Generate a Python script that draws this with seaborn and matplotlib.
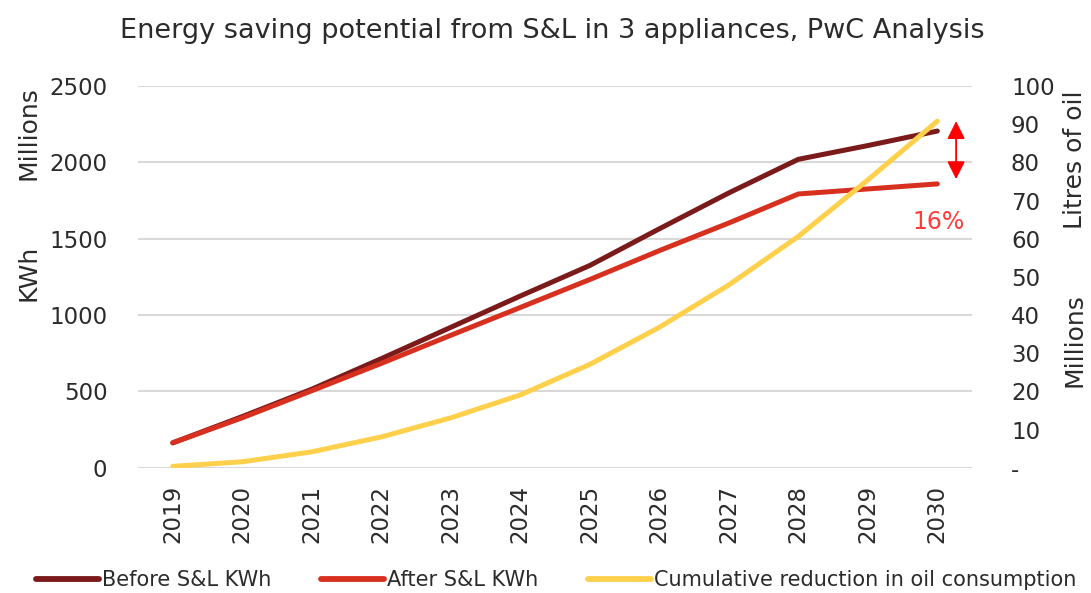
import matplotlib
matplotlib.use("Agg")
import matplotlib.pyplot as plt
import seaborn as sns
import pandas as pd
from matplotlib.lines import Line2D

# data
years = ["2019", "2020", "2021", "2022", "2023", "2024", "2025", "2026", "2027", "2028", "2029", "2030"]
before_kwh = [164, 336, 515, 715, 920, 1125, 1325, 1565, 1800, 2020, 2110, 2205]
after_kwh = [164, 328, 505, 684, 868, 1050, 1233, 1422, 1603, 1793, 1826, 1859]
oil_reduction = [0.4, 1.6, 4.2, 8.1, 13.1, 19.1, 27.1, 36.8, 47.9, 60.6, 75.4, 90.8]
left_ticks = [0, 500, 1000, 1500, 2000, 2500]
right_ticks = [0, 10, 20, 30, 40, 50, 60, 70, 80, 90, 100]
right_labels = ["-", "10", "20", "30", "40", "50", "60", "70", "80", "90", "100"]

c_before = "#7b1a1a"
c_after = "#d8301f"
c_oil = "#ffd04c"

df = pd.DataFrame({"year": years, "before": before_kwh, "after": after_kwh, "oil": oil_reduction})

sns.set_theme(style="white")
plt.rcParams["font.family"] = ["DejaVu Sans"]
txt = "#2b2b2b"

fig = plt.figure(figsize=(10.91, 5.93), dpi=100)
ax = fig.add_axes([0.1265, 0.211, 0.7645, 0.644])
ax2 = ax.twinx()

sns.lineplot(data=df, x="year", y="before", ax=ax, color=c_before, lw=3.6, sort=False)
sns.lineplot(data=df, x="year", y="after", ax=ax, color=c_after, lw=3.6, sort=False)
sns.lineplot(data=df, x="year", y="oil", ax=ax2, color=c_oil, lw=3.6, sort=False)
for l in ax.lines + ax2.lines:
    l.set_solid_capstyle("round")

ax.set_xlim(-0.5, len(years) - 0.5)
ax.set_ylim(0, 2500)
ax2.set_ylim(0, 100)
ax.set_yticks(left_ticks)
ax2.set_yticks(right_ticks)
ax2.set_yticklabels(right_labels)
ax.grid(axis="y", color="#d9d9d9", lw=1.5)
ax.set_axisbelow(True)
for a in (ax, ax2):
    for s in a.spines.values():
        s.set_visible(False)
    a.set_xlabel("")
    a.set_ylabel("")
    a.tick_params(length=0, labelsize=16.5, colors=txt)
ax.tick_params(axis="x", rotation=90, pad=12)
ax.tick_params(axis="y", pad=22)
ax2.tick_params(axis="y", pad=28)
for t in ax2.get_yticklabels():
    t.set_ha("left")

# axis titles
fig.text(0.026, 0.54, "KWh", rotation=90, ha="center", va="center", fontsize=18, color=txt)
fig.text(0.026, 0.775, "Millions", rotation=90, ha="center", va="center", fontsize=18, color=txt)
fig.text(0.985, 0.73, "Litres of oil", rotation=90, ha="center", va="center", fontsize=18, color=txt)
fig.text(0.985, 0.427, "Millions", rotation=90, ha="center", va="center", fontsize=18, color=txt)

fig.suptitle("Energy saving potential from S&L in 3 appliances, PwC Analysis",
             x=0.506, y=0.97, fontsize=19.5, color=txt)

# gap arrow
ax.annotate("", xy=(11.27, 1890), xytext=(11.27, 2270),
            arrowprops=dict(arrowstyle="<|-|>,head_length=0.9,head_width=0.45",
                            color="#ff0000", lw=1.3, shrinkA=0, shrinkB=0),
            annotation_clip=False)
ax.text(11.02, 1610, "16%", color="#ff3b3b", fontsize=17, ha="center", va="center")

handles = [Line2D([], [], color=c_before, lw=4.2),
           Line2D([], [], color=c_after, lw=4.2),
           Line2D([], [], color=c_oil, lw=4.2)]
labels = ["Before S&L KWh", "After S&L KWh", "Cumulative reduction in oil consumption"]
fig.legend(handles, labels, loc="center", bbox_to_anchor=(0.51, 0.022), ncol=3,
           frameon=False, fontsize=15, handlelength=3.0, handletextpad=0.15,
           columnspacing=2.4, labelcolor=txt)

fig.savefig("out.png", dpi=100)
